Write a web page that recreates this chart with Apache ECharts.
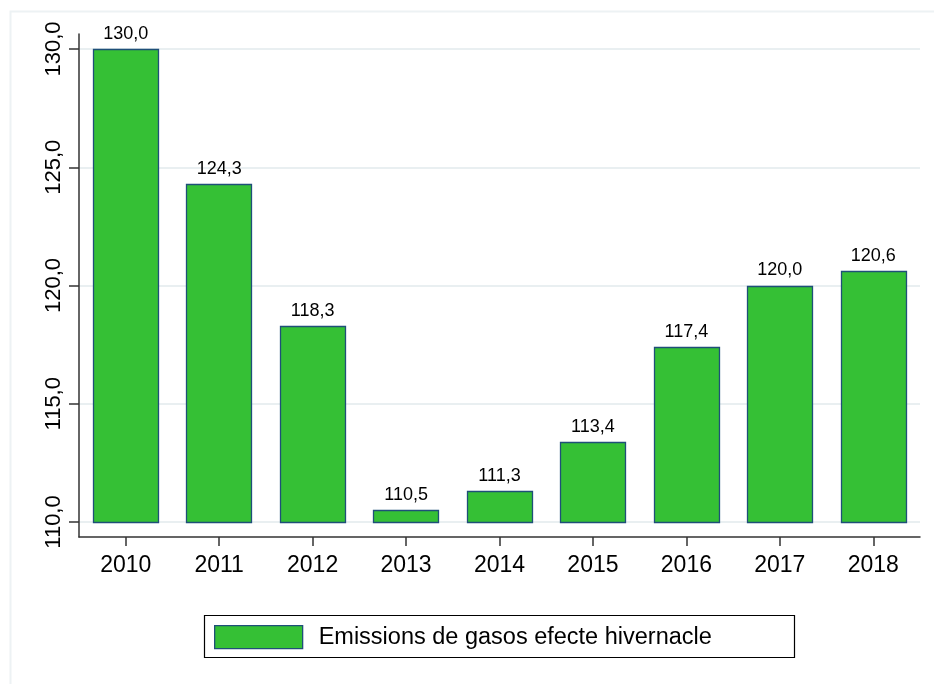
<!DOCTYPE html>
<html>
<head>
<meta charset="utf-8">
<script src="https://cdn.jsdelivr.net/npm/echarts@6/dist/echarts.min.js"></script>
<style>html,body{margin:0;padding:0;background:#fff}#c{width:934px;height:684px}</style>
</head>
<body>
<div id="c"></div>
<script>
const years = ['2010','2011','2012','2013','2014','2015','2016','2017','2018'];
const emissions = [130.0, 124.3, 118.3, 110.5, 111.3, 113.4, 117.4, 120.0, 120.6];
const yTicks = [110, 115, 120, 125, 130];
const seriesName = 'Emissions de gasos efecte hivernacle';
const baseValue = 110;

const FONT = "'Liberation Sans', Arial, sans-serif";
const fill = '#35c035';
const stroke = '#1f4f78';
const fmt = v => v.toFixed(1).replace('.', ',');

const chart = echarts.init(document.getElementById('c'), null, {renderer: 'canvas'});
chart.setOption({
  animation: false,
  backgroundColor: '#fff',
  textStyle: {fontFamily: FONT},
  graphic: [
    {type: 'rect', silent: true, z: -10, shape: {x: 10.5, y: 11.5, width: 1000, height: 1000},
     style: {fill: 'none', stroke: '#edf2f4', lineWidth: 2}},
    {type: 'rect', silent: true, z: -1, shape: {x: 204.5, y: 615.5, width: 590, height: 42},
     style: {fill: '#fff', stroke: '#000', lineWidth: 1.2}}
  ],
  grid: [
    {left: 79, right: 14, top: 49, bottom: 162},
    {left: 79, right: 14, top: 34, bottom: 147}
  ],
  xAxis: [
    {gridIndex: 0, type: 'category', data: years, show: false, boundaryGap: true},
    {gridIndex: 1, type: 'category', data: years, boundaryGap: true,
     axisLine: {show: true, lineStyle: {color: '#333', width: 1.5}},
     axisTick: {show: true, alignWithLabel: true, length: 9, lineStyle: {color: '#333', width: 1.5}},
     axisLabel: {color: '#000', fontSize: 23, fontFamily: FONT, margin: 17},
     splitLine: {show: false}}
  ],
  yAxis: [
    {gridIndex: 0, type: 'value', min: yTicks[0], max: yTicks[yTicks.length - 1], interval: 5,
     axisLine: {show: false},
     axisTick: {show: true, length: 10, lineStyle: {color: '#333', width: 1.5}},
     axisLabel: {color: '#000', fontSize: 22, fontFamily: FONT, rotate: 90, margin: 14, formatter: v => fmt(v)},
     splitLine: {show: true, lineStyle: {color: '#e9eff1', width: 2}}},
    {gridIndex: 1, type: 'value', min: 0, max: 1,
     axisLine: {show: true, onZero: false, lineStyle: {color: '#333', width: 1.5}},
     axisTick: {show: false}, axisLabel: {show: false}, splitLine: {show: false}}
  ],
  legend: {
    left: 214, top: 625, padding: 0,
    itemWidth: 88, itemHeight: 23, itemGap: 10,
    icon: 'rect',
    textStyle: {color: '#000', fontSize: 23.5, fontFamily: FONT, padding: [0, 0, 0, 11]},
    data: [{name: seriesName, itemStyle: {color: fill, borderColor: stroke, borderWidth: 1.3}}]
  },
  series: [{
    name: seriesName,
    type: 'custom',
    xAxisIndex: 0, yAxisIndex: 0,
    itemStyle: {color: fill, borderColor: stroke, borderWidth: 1},
    data: emissions.map((v, i) => [i, v]),
    encode: {x: 0, y: 1},
    renderItem: (params, api) => {
      const idx = api.value(0);
      const v = api.value(1);
      const top = api.coord([idx, v]);
      const base = api.coord([idx, baseValue]);
      const w = api.size([1, 0])[0] * 0.7;
      const x0 = Math.round(top[0] - w / 2) + 0.5;
      const yTop = Math.round(top[1]) + 0.5;
      const yBot = Math.round(base[1]) + 0.5;
      return {
        type: 'group',
        children: [
          {type: 'rect',
           shape: {x: x0, y: yTop, width: Math.round(w), height: yBot - yTop},
           style: {fill: fill, stroke: stroke, lineWidth: 1.3}},
          {type: 'text',
           style: {text: fmt(v), x: top[0], y: top[1] - 6, align: 'center', verticalAlign: 'bottom',
                   font: '18px ' + FONT, fill: '#000'}}
        ]
      };
    }
  }]
});
</script>
</body>
</html>
